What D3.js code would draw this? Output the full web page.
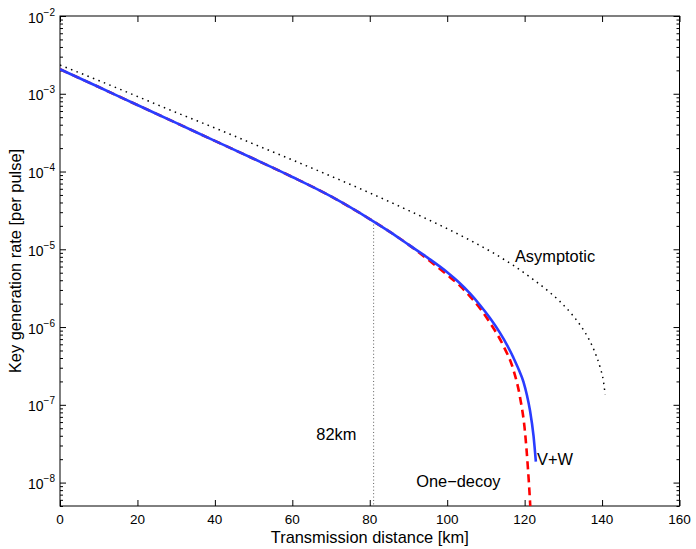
<!DOCTYPE html>
<html><head><meta charset="utf-8">
<script src="https://cdn.jsdelivr.net/npm/d3@7"></script>
<style>
body{margin:0;background:#fff}
svg{display:block}
text{font-family:"Liberation Sans",Arial,Helvetica,sans-serif;fill:#000}
</style>
</head><body>
<svg id="c" width="696" height="549"></svg>
<script>
// ---- data ----
const vwDist = [0,10,20,30,40,50,60,70,80,85,90,95,100,103,106,108.5,111,113.6,115.5,117.1,118.5,119.7,120.6,121.4,122.3,122.9];
const vwRate = [2.065e-3,1.22e-3,7.16e-4,4.22e-4,2.48e-4,1.46e-4,8.51e-5,4.79e-5,2.45e-5,1.70e-5,1.148e-5,7.76e-6,5.07e-6,3.77e-6,2.67e-6,1.91e-6,1.32e-6,8.49e-7,5.83e-7,4.04e-7,2.83e-7,1.98e-7,1.33e-7,8.41e-8,3.98e-8,1.86e-8];
const oneDist = [0,10,20,30,40,50,60,70,80,85,90,95,100,103.3,106,108.5,111,114.5,117.1,118.8,120.1,120.8,121.4,121.7];
const oneRate = [2.065e-3,1.22e-3,7.16e-4,4.22e-4,2.48e-4,1.46e-4,8.51e-5,4.79e-5,2.45e-5,1.70e-5,1.148e-5,7.41e-6,4.68e-6,3.39e-6,2.45e-6,1.74e-6,1.148e-6,5.75e-7,2.82e-7,1.26e-7,4.47e-8,1.66e-8,5.62e-9,2.82e-9];
const asyDist = [0,10,20,30,40,50,60,70,80,90,100,106,112,117,122,126.5,129,132,134.5,136.5,138,139.5,140.3,140.8];
const asyRate = [2.34e-3,1.48e-3,9.23e-4,5.75e-4,3.63e-4,2.26e-4,1.41e-4,8.71e-5,5.31e-5,3.16e-5,1.84e-5,1.30e-5,8.91e-6,6.24e-6,4.17e-6,2.79e-6,2.16e-6,1.50e-6,1.035e-6,7.16e-7,4.95e-7,3.02e-7,2.09e-7,1.35e-7];
const markerDist = 81, markerTop = 2.3e-5;
const xTicks = [0,20,40,60,80,100,120,140,160];
const yExps = [-2,-3,-4,-5,-6,-7,-8];
const xDomain = [0,160], yDomain = [5e-9,1e-2];
const labels = {x:"Transmission distance [km]", y:"Key generation rate [per pulse]"};
const notes = [
  {text:"Asymptotic", d:117.5, v:6.8e-6},
  {text:"V+W", d:123.2, v:1.7e-8},
  {text:"One\u2212decoy", d:92, v:8.9e-9},
  {text:"82km", d:66.2, v:3.5e-8}
];

// ---- layout ----
const L=60, T=16, R=679.5, B=506;
const svg = d3.select("#c");
const x = d3.scaleLinear().domain(xDomain).range([L,R]);
const y = d3.scaleLog().domain(yDomain).range([B,T]);

svg.append("defs").append("clipPath").attr("id","clip")
  .append("rect").attr("x",L).attr("y",T).attr("width",R-L).attr("height",B-T);

// minor log ticks
const minor = [];
for (let e=-9;e<-2;e++) for (let m=2;m<=9;m++){ const v=m*Math.pow(10,e); if(v>=yDomain[0]&&v<=yDomain[1]) minor.push(v); }

function styleAxis(g){ g.select(".domain").remove(); g.selectAll("text").remove(); g.selectAll("line").attr("stroke","#000").attr("stroke-width",1); }

svg.append("g").attr("transform",`translate(0,${B})`).call(d3.axisBottom(x).tickValues(xTicks).tickSizeInner(-6).tickSizeOuter(0)).call(styleAxis);
svg.append("g").attr("transform",`translate(0,${T})`).call(d3.axisTop(x).tickValues(xTicks).tickSizeInner(-6).tickSizeOuter(0)).call(styleAxis);
const majors = yExps.map(e=>Math.pow(10,e));
svg.append("g").attr("transform",`translate(${L},0)`).call(d3.axisLeft(y).tickValues(majors).tickSizeInner(-6).tickSizeOuter(0)).call(styleAxis);
svg.append("g").attr("transform",`translate(${R},0)`).call(d3.axisRight(y).tickValues(majors).tickSizeInner(-6).tickSizeOuter(0)).call(styleAxis);
svg.append("g").attr("transform",`translate(${L},0)`).call(d3.axisLeft(y).tickValues(minor).tickSizeInner(-3).tickSizeOuter(0)).call(styleAxis);
svg.append("g").attr("transform",`translate(${R},0)`).call(d3.axisRight(y).tickValues(minor).tickSizeInner(-3).tickSizeOuter(0)).call(styleAxis);

// box
svg.append("rect").attr("x",L).attr("y",T).attr("width",R-L).attr("height",B-T)
  .attr("fill","none").attr("stroke","#000").attr("stroke-width",1);

// tick labels
svg.append("g").selectAll("text").data(xTicks).join("text")
  .attr("x",d=>x(d)).attr("y",B+18).attr("text-anchor","middle")
  .attr("font-size",13.5).text(d=>d);
const yl = svg.append("g").selectAll("text").data(yExps).join("text")
  .attr("x",55).attr("y",e=>y(Math.pow(10,e))+6.5).attr("text-anchor","end").attr("font-size",14);
yl.append("tspan").text("10");
yl.append("tspan").attr("dy",-7).attr("font-size",10).text(e=>"\u2212"+Math.abs(e));

// axis labels
svg.append("text").attr("x",(L+R)/2).attr("y",543).attr("text-anchor","middle").attr("font-size",16.4).text(labels.x);
svg.append("text").attr("transform",`translate(21,${(T+B)/2}) rotate(-90)`).attr("text-anchor","middle").attr("font-size",16.4).text(labels.y);

// curves
const plot = svg.append("g").attr("clip-path","url(#clip)");
const line = d3.line().x(d=>x(d[0])).y(d=>y(d[1])).curve(d3.curveMonotoneX);
plot.append("line").attr("x1",x(markerDist)).attr("x2",x(markerDist)).attr("y1",y(markerTop)).attr("y2",B)
  .attr("stroke","#333").attr("stroke-width",0.8).attr("stroke-dasharray","1,2.4");
plot.append("path").attr("d",line(asyDist.map((d,i)=>[d,asyRate[i]])))
  .attr("fill","none").attr("stroke","#000").attr("stroke-width",1.5).attr("stroke-dasharray","1.5,4.4");
plot.append("path").attr("d",line(oneDist.map((d,i)=>[d,oneRate[i]])))
  .attr("fill","none").attr("stroke","#ff0000").attr("stroke-width",2.6).attr("stroke-dasharray","8,5");
plot.append("path").attr("d",line(vwDist.map((d,i)=>[d,vwRate[i]])))
  .attr("fill","none").attr("stroke","#2a3cff").attr("stroke-width",2.6);

// annotations
svg.append("g").selectAll("text").data(notes).join("text")
  .attr("x",d=>x(d.d)).attr("y",d=>y(d.v)).attr("font-size",16.4).text(d=>d.text);
</script>
</body></html>
